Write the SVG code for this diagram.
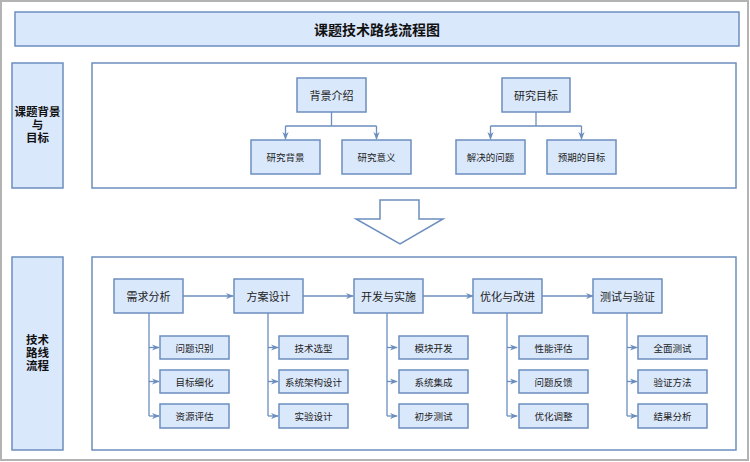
<svg xmlns="http://www.w3.org/2000/svg" width="750" height="462" viewBox="0 0 750 462">
<defs>
<style>
.b{fill:#dae8fc;stroke:#6c8ebf;stroke-width:1.5}
.w{fill:#ffffff;stroke:#6c8ebf;stroke-width:1.5}
.c{fill:none;stroke:#6c8ebf;stroke-width:1.3}
text{font-family:"Noto Sans CJK SC","Liberation Sans",sans-serif;fill:#222;text-anchor:middle;dominant-baseline:central}
.t{font-size:14px;font-weight:bold;fill:#111}
.l{font-size:11.5px;font-weight:bold;fill:#111;dominant-baseline:auto}
.m{font-size:11px}
.s{font-size:9.5px}
</style>
<marker id="a" viewBox="0 0 10 10" refX="9" refY="5" markerWidth="6" markerHeight="6" orient="auto"><path d="M0,1 L10,5 L0,9 L3,5 Z" fill="#6c8ebf"/></marker>
</defs>
<rect x="1" y="1" width="747" height="459" fill="#ffffff" stroke="#b3b3b3" stroke-width="2"/>
<g id="title"><rect class="b" x="15" y="12" width="724" height="34"/><text class="t" x="377" y="29">课题技术路线流程图</text></g>
<g id="lbl1"><rect class="b" x="12" y="63" width="51" height="125"/><text class="l" x="37.5" y="116"><tspan x="37.5">课题背景</tspan><tspan x="37.5" dy="13">与</tspan><tspan x="37.5" dy="13">目标</tspan></text></g>
<g id="panel1"><rect class="w" x="92" y="63" width="644" height="125"/></g>
<g id="lbl2"><rect class="b" x="12" y="257" width="51" height="193"/><text class="l" x="37.5" y="344"><tspan x="37.5">技术</tspan><tspan x="37.5" dy="13">路线</tspan><tspan x="37.5" dy="13">流程</tspan></text></g>
<g id="panel2"><rect class="w" x="92" y="257" width="644" height="193"/></g>
<g id="bigarrow"><path class="w" d="M380,200 L419,200 L419,219 L443,219 L400,244 L356,219 L380,219 Z"/></g>
<g id="connectors">
<path class="c" d="M331.5,112 V126 M285.5,126 H376.5" />
<path class="c" d="M285.5,126 V139" marker-end="url(#a)"/>
<path class="c" d="M376.5,126 V139" marker-end="url(#a)"/>
<path class="c" d="M536,112 V126 M490.5,126 H581.5" />
<path class="c" d="M490.5,126 V139" marker-end="url(#a)"/>
<path class="c" d="M581.5,126 V139" marker-end="url(#a)"/>
<path class="c" d="M183,296 H233" marker-end="url(#a)"/>
<path class="c" d="M303,296 H353" marker-end="url(#a)"/>
<path class="c" d="M423,296 H473" marker-end="url(#a)"/>
<path class="c" d="M542,296 H593" marker-end="url(#a)"/>
<path class="c" d="M149,313 V416 M268,313 V416 M387,313 V416 M507,313 V416 M627,313 V416"/>
<path class="c" d="M149,347.5 H159" marker-end="url(#a)"/>
<path class="c" d="M149,381.5 H159" marker-end="url(#a)"/>
<path class="c" d="M149,416 H159" marker-end="url(#a)"/>
<path class="c" d="M268,347.5 H278" marker-end="url(#a)"/>
<path class="c" d="M268,381.5 H278" marker-end="url(#a)"/>
<path class="c" d="M268,416 H278" marker-end="url(#a)"/>
<path class="c" d="M387,347.5 H397" marker-end="url(#a)"/>
<path class="c" d="M387,381.5 H397" marker-end="url(#a)"/>
<path class="c" d="M387,416 H397" marker-end="url(#a)"/>
<path class="c" d="M507,347.5 H517" marker-end="url(#a)"/>
<path class="c" d="M507,381.5 H517" marker-end="url(#a)"/>
<path class="c" d="M507,416 H517" marker-end="url(#a)"/>
<path class="c" d="M627,347.5 H637" marker-end="url(#a)"/>
<path class="c" d="M627,381.5 H637" marker-end="url(#a)"/>
<path class="c" d="M627,416 H637" marker-end="url(#a)"/>
</g>
<g id="n_bg"><rect class="b" x="297" y="78" width="69" height="34"/><text class="m" x="331.5" y="95">背景介绍</text></g>
<g id="n_bg1"><rect class="b" x="251" y="140" width="69" height="34"/><text class="s" x="285.5" y="157">研究背景</text></g>
<g id="n_bg2"><rect class="b" x="342" y="140" width="69" height="34"/><text class="s" x="376.5" y="157">研究意义</text></g>
<g id="n_goal"><rect class="b" x="502" y="78" width="68" height="34"/><text class="m" x="536" y="95">研究目标</text></g>
<g id="n_goal1"><rect class="b" x="456" y="140" width="69" height="34"/><text class="s" x="490.5" y="157">解决的问题</text></g>
<g id="n_goal2"><rect class="b" x="547" y="140" width="69" height="34"/><text class="s" x="581.5" y="157">预期的目标</text></g>
<g id="s1"><rect class="b" x="114" y="279" width="69" height="34"/><text class="m" x="148.5" y="296">需求分析</text></g>
<g id="s2"><rect class="b" x="234" y="279" width="69" height="34"/><text class="m" x="268.5" y="296">方案设计</text></g>
<g id="s3"><rect class="b" x="354" y="279" width="69" height="34"/><text class="m" x="388.5" y="296">开发与实施</text></g>
<g id="s4"><rect class="b" x="473" y="279" width="69" height="34"/><text class="m" x="507.5" y="296">优化与改进</text></g>
<g id="s5"><rect class="b" x="593" y="279" width="69" height="34"/><text class="m" x="627.5" y="296">测试与验证</text></g>
<g id="s1a"><rect class="b" x="160" y="336" width="69" height="23"/><text class="s" x="194.5" y="347.5">问题识别</text></g>
<g id="s1b"><rect class="b" x="160" y="370" width="69" height="23"/><text class="s" x="194.5" y="381.5">目标细化</text></g>
<g id="s1c"><rect class="b" x="160" y="404" width="69" height="24"/><text class="s" x="194.5" y="416">资源评估</text></g>
<g id="s2a"><rect class="b" x="279" y="336" width="69" height="23"/><text class="s" x="313.5" y="347.5">技术选型</text></g>
<g id="s2b"><rect class="b" x="279" y="370" width="69" height="23"/><text class="s" x="313.5" y="381.5">系统架构设计</text></g>
<g id="s2c"><rect class="b" x="279" y="404" width="69" height="24"/><text class="s" x="313.5" y="416">实验设计</text></g>
<g id="s3a"><rect class="b" x="399" y="336" width="69" height="23"/><text class="s" x="433.5" y="347.5">模块开发</text></g>
<g id="s3b"><rect class="b" x="399" y="370" width="69" height="23"/><text class="s" x="433.5" y="381.5">系统集成</text></g>
<g id="s3c"><rect class="b" x="399" y="404" width="69" height="24"/><text class="s" x="433.5" y="416">初步测试</text></g>
<g id="s4a"><rect class="b" x="519" y="336" width="69" height="23"/><text class="s" x="553.5" y="347.5">性能评估</text></g>
<g id="s4b"><rect class="b" x="519" y="370" width="69" height="23"/><text class="s" x="553.5" y="381.5">问题反馈</text></g>
<g id="s4c"><rect class="b" x="519" y="404" width="69" height="24"/><text class="s" x="553.5" y="416">优化调整</text></g>
<g id="s5a"><rect class="b" x="638" y="336" width="69" height="23"/><text class="s" x="672.5" y="347.5">全面测试</text></g>
<g id="s5b"><rect class="b" x="638" y="370" width="69" height="23"/><text class="s" x="672.5" y="381.5">验证方法</text></g>
<g id="s5c"><rect class="b" x="638" y="404" width="69" height="24"/><text class="s" x="672.5" y="416">结果分析</text></g>
</svg>
